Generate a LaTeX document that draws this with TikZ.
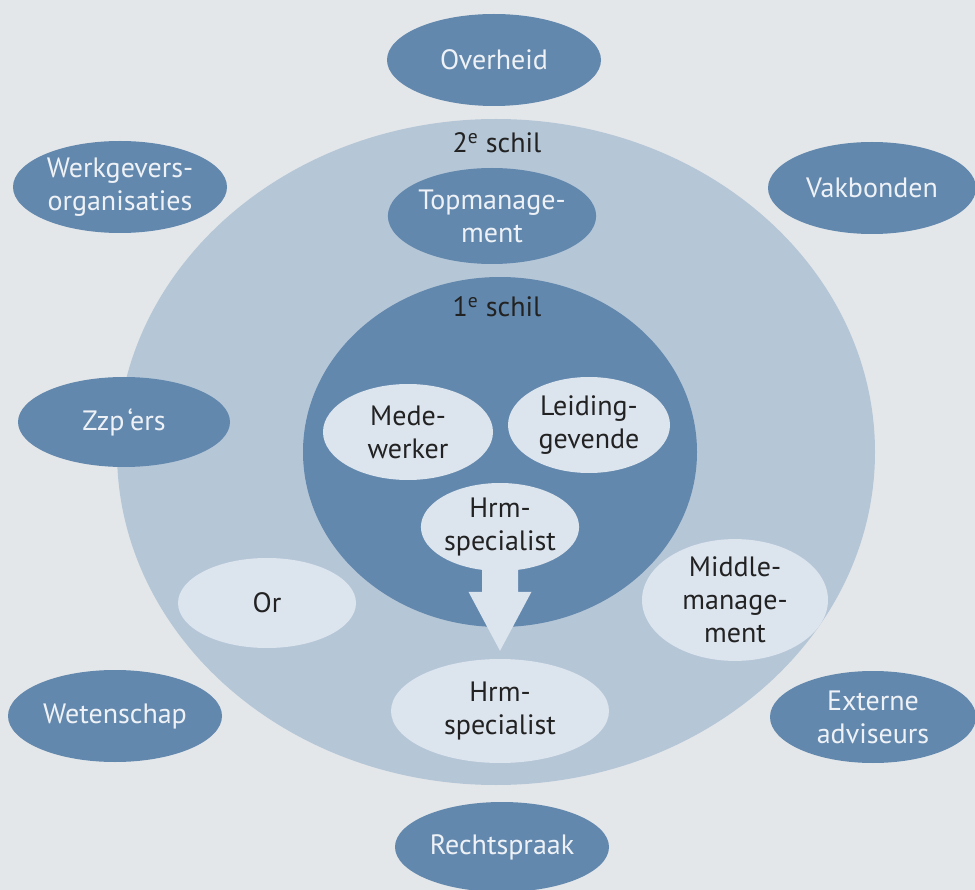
\documentclass[tikz,border=0pt]{standalone}
\usepackage{fontspec}
\setmainfont{PT Sans}
\usetikzlibrary{shapes.geometric,calc}

\definecolor{bgcol}{HTML}{E4E7EA}
\definecolor{ringcol}{HTML}{B5C6D7}
\definecolor{bluecol}{HTML}{6388AD}
\definecolor{palecol}{HTML}{DCE4EE}
\definecolor{inkcol}{HTML}{222222}
\definecolor{snowcol}{HTML}{EEF2F7}

\begin{document}
\begin{tikzpicture}[x=1pt,y=-1pt,every node/.style={font=\fontsize{28}{33}\selectfont,align=center,inner sep=0pt},
  dims/.style 2 args={minimum width=#1,minimum height=#2},
  shell/.style={ellipse},
  darkell/.style={ellipse,fill=bluecol,text=snowcol},
  lightell/.style={ellipse,fill=palecol,text=inkcol}]
\fill[bgcol] (0,0) rectangle (975,890);
\useasboundingbox (0,0) rectangle (975,890);
% the two shells
\node[shell,fill=ringcol,dims={758pt}{666pt}] (schil2) at (496,452) {};
\node[shell,fill=bluecol,dims={394pt}{350pt}] (schil1) at (500,452) {};
\node[text=inkcol] (label2) at (497,143) {2\textsuperscript{e} schil};
\node[text=inkcol] (label1) at (497,307) {1\textsuperscript{e} schil};
% outside parties
\node[darkell,dims={214pt}{92pt}] (overheid) at (494,60) {Overheid};
\node[darkell,dims={214pt}{92pt}] (werkgevers) at (120,187) {Werkgevers-\\organisaties};
\node[darkell,dims={208pt}{92pt}] (vakbonden) at (872,188) {Vakbonden};
\node[darkell,dims={212pt}{90pt}] (zzp) at (124,422) {Zzp\kern3pt‘ers};
\node[darkell,dims={214pt}{92pt}] (wetenschap) at (115,716) {Wetenschap};
\node[darkell,dims={206pt}{92pt}] (externe) at (873,717) {Externe\\adviseurs};
\node[darkell,dims={214pt}{90pt}] (rechtspraak) at (502,847) {Rechtspraak};
% second shell
\node[darkell,dims={204pt}{96pt}] (topman) at (492,216) {Topmanage-\\ment};
\node[lightell,dims={178pt}{90pt}] (or) at (267,603) {Or};
\node[lightell,dims={186pt}{104pt}] (middle) at (735,600) {Middle-\\manage-\\ment};
\node[lightell,dims={218pt}{104pt}] (hrmout) at (500,711) {Hrm-\\specialist};
% first shell
\node[lightell,dims={170pt}{96pt}] (medewerker) at (408,432) {Mede-\\werker};
\node[lightell,dims={162pt}{96pt}] (leiding) at (589,425) {Leiding-\\gevende};
\node[lightell,dims={150pt}{88pt}] (hrmin) at (500,527) {Hrm-\\specialist};
% block arrow out of the first shell
\coordinate (tip) at ([yshift=8pt]hrmout.north);
\fill[palecol] ($(hrmin.south)+(-18,-8)$) -- ($(tip)+(-18,-59)$) -- ($(tip)+(-31.5,-59)$) -- (tip)
  -- ($(tip)+(31.5,-59)$) -- ($(tip)+(18,-59)$) -- ($(hrmin.south)+(18,-8)$) -- cycle;
\end{tikzpicture}
\end{document}
